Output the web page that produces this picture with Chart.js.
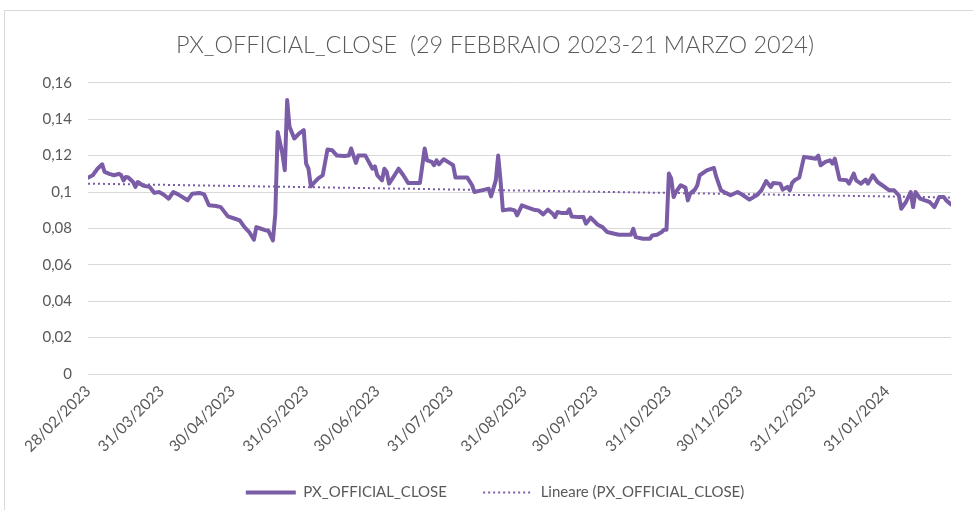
<!DOCTYPE html>
<html>
<head>
<meta charset="utf-8">
<script src="https://cdn.jsdelivr.net/npm/chart.js@4"></script>
<style>
html,body{margin:0;padding:0;background:#fff;}
#wrap{width:973px;height:510px;position:relative;}
</style>
</head>
<body>
<div id="wrap"><canvas id="c" width="973" height="510"></canvas></div>
<script>
// ---- DATA ----
const startDate = '28/02/2023';
const dayOffsets = [0,2,4,6,7,9,11,13,14,15,16,17,19,20,21,23,24,26,28,30,32,34,36,38,41,42,44,47,49,51,54,56,59,62,64,66,68,70,71,73,75,76,78,79,80,82,83,84,85,87,89,91,92,93,94,95,97,99,101,103,105,108,110,111,113,114,117,120,121,122,124,125,126,127,129,131,133,135,140,142,143,145,146,147,148,150,153,154,155,160,162,163,166,169,170,172,173,174,175,178,180,181,183,185,188,190,192,194,196,197,198,200,202,203,204,207,209,210,212,215,217,219,222,224,229,230,231,234,237,238,240,242,243,244,245,246,247,248,250,252,253,254,256,257,258,261,264,265,267,269,271,274,276,279,282,284,286,288,289,292,293,295,296,297,298,300,302,305,307,308,309,311,313,314,315,317,320,321,323,324,326,328,329,331,333,335,338,340,342,343,345,347,348,349,351,353,355,357,359,361,362,364];
const closeValues = [0.1079,0.1092,0.1128,0.1152,0.1110,0.1100,0.1092,0.1100,0.1092,0.1064,0.1083,0.1080,0.1055,0.1028,0.1055,0.1037,0.1033,0.1028,0.0995,0.1000,0.0985,0.0963,0.1000,0.0987,0.0963,0.0954,0.0991,0.0995,0.0987,0.0927,0.0923,0.0917,0.0866,0.0853,0.0844,0.0807,0.0780,0.0738,0.0807,0.0798,0.0789,0.0789,0.0734,0.0880,0.1330,0.1210,0.1120,0.1505,0.1358,0.1294,0.1321,0.1340,0.1156,0.1128,0.1031,0.1046,0.1073,0.1092,0.1233,0.1229,0.1200,0.1198,0.1200,0.1239,0.1160,0.1200,0.1200,0.1128,0.1141,0.1092,0.1064,0.1128,0.1110,0.1046,0.1086,0.1128,0.1092,0.1050,0.1050,0.1239,0.1174,0.1165,0.1147,0.1174,0.1152,0.1180,0.1156,0.1147,0.1079,0.1079,0.1037,0.1000,0.1009,0.1018,0.0976,0.1064,0.1200,0.1064,0.0899,0.0905,0.0899,0.0872,0.0927,0.0917,0.0903,0.0899,0.0877,0.0903,0.0881,0.0862,0.0890,0.0884,0.0884,0.0905,0.0866,0.0862,0.0862,0.0826,0.0859,0.0820,0.0807,0.0780,0.0771,0.0765,0.0765,0.0798,0.0752,0.0743,0.0743,0.0761,0.0765,0.0780,0.0793,0.0793,0.1101,0.1073,0.0972,0.1000,0.1037,0.1024,0.0954,0.0991,0.1013,0.1037,0.1092,0.1119,0.1132,0.1083,0.1009,0.0995,0.0982,0.1000,0.0985,0.0958,0.0982,0.1009,0.1060,0.1028,0.1050,0.1046,0.1013,0.1028,0.1009,0.1050,0.1064,0.1079,0.1193,0.1187,0.1183,0.1200,0.1147,0.1165,0.1174,0.1156,0.1183,0.1068,0.1064,0.1046,0.1101,0.1064,0.1046,0.1068,0.1046,0.1092,0.1055,0.1037,0.1009,0.1009,0.0982,0.0908,0.0945,0.1000,0.0917,0.1000,0.0963,0.0954,0.0945,0.0917,0.0972,0.0972,0.0954,0.0932];
const trendDays = [0, 364];
const trendValues = [0.1046, 0.0970];
const tickDates = ['28/02/2023','31/03/2023','30/04/2023','31/05/2023','30/06/2023','31/07/2023','31/08/2023','30/09/2023','31/10/2023','30/11/2023','31/12/2023','31/01/2024'];
const yTickValues = [0,0.02,0.04,0.06,0.08,0.1,0.12,0.14,0.16];
const seriesLabel = 'PX_OFFICIAL_CLOSE';
const trendLabel = 'Lineare (PX_OFFICIAL_CLOSE)';
const titleText = 'PX_OFFICIAL_CLOSE  (29 FEBBRAIO 2023-21 MARZO 2024)';

// ---- helpers ----
function parseDMY(s){ const p = s.split('/').map(Number); return Date.UTC(p[2], p[1]-1, p[0]); }
const t0 = parseDMY(startDate);
const tickDays = tickDates.map(s => Math.round((parseDMY(s) - t0) / 86400000));
const dayToLabel = {};
tickDays.forEach((d,i) => { dayToLabel[d] = tickDates[i]; });

const PURPLE = '#7A5DA6';
const GRAY_TXT = '#595959';
const GRID = '#d9d9d9';
const FONT = 'Lato, "Open Sans", "DejaVu Sans", sans-serif';

const framePlugin = {
  id: 'frame',
  beforeDraw(chart){
    const c = chart.ctx;
    c.save();
    c.fillStyle = '#ffffff';
    c.fillRect(0,0,chart.width,chart.height);
    c.strokeStyle = '#d9d9d9';
    c.lineWidth = 1;
    c.strokeRect(4.5, 10.5, 1200, 800);
    c.restore();
  }
};

new Chart(document.getElementById('c'), {
  type: 'line',
  data: {
    datasets: [
      {
        label: seriesLabel,
        data: dayOffsets.map((d,i) => ({x: d, y: closeValues[i]})),
        borderColor: PURPLE,
        backgroundColor: PURPLE,
        borderWidth: 4,
        pointRadius: 0,
        tension: 0,
        borderJoinStyle: 'round',
        borderCapStyle: 'round'
      },
      {
        label: trendLabel,
        data: trendDays.map((d,i) => ({x: d, y: trendValues[i]})),
        borderColor: PURPLE,
        backgroundColor: PURPLE,
        borderWidth: 2,
        borderDash: [2,3],
        pointRadius: 0,
        tension: 0
      }
    ]
  },
  options: {
    responsive: false,
    animation: false,
    devicePixelRatio: 1,
    layout: { padding: { left: 39, right: 22, top: 0, bottom: 0 } },
    scales: {
      x: {
        type: 'linear',
        min: 0,
        max: 364,
        grid: { display: false, drawTicks: false },
        border: { display: true, color: GRID, width: 1 },
        afterBuildTicks: (s) => { s.ticks = tickDays.map(v => ({value: v})); },
        afterFit: (s) => { s.height = 86; },
        ticks: {
          autoSkip: false,
          minRotation: 45,
          maxRotation: 45,
          padding: 8,
          color: GRAY_TXT,
          font: { family: FONT, size: 15.5 },
          callback: (v) => dayToLabel[v] || ''
        }
      },
      y: {
        min: 0,
        max: 0.16,
        afterBuildTicks: (s) => { s.ticks = yTickValues.map(v => ({value: v})); },
        afterFit: (s) => { s.width = 49; },
        grid: { color: GRID, lineWidth: 1, drawTicks: false },
        border: { display: false },
        ticks: {
          padding: 16,
          color: GRAY_TXT,
          font: { family: FONT, size: 15 },
          callback: (v) => String(parseFloat(Number(v).toFixed(2))).replace('.', ',')
        }
      }
    },
    plugins: {
      title: {
        display: true,
        text: titleText,
        color: GRAY_TXT,
        font: { family: FONT, size: 23.5, weight: 300, lineHeight: 1.2 },
        padding: { top: 31, bottom: 23.6 }
      },
      legend: {
        display: true,
        position: 'bottom',
        labels: {
          usePointStyle: true,
          pointStyle: 'line',
          pointStyleWidth: 50,
          padding: 25,
          color: GRAY_TXT,
          font: { family: FONT, size: 15 },
          generateLabels: (chart) => chart.data.datasets.map((ds, i) => ({
            text: i === 0 ? ds.label + '\u2003' : ds.label,
            fillStyle: ds.borderColor,
            strokeStyle: ds.borderColor,
            fontColor: GRAY_TXT,
            lineWidth: ds.borderWidth,
            lineDash: ds.borderDash || [],
            lineCap: 'butt',
            pointStyle: 'line',
            hidden: false,
            datasetIndex: i
          }))
        }
      },
      tooltip: { enabled: false }
    }
  },
  plugins: [framePlugin]
});
</script>
</body>
</html>
